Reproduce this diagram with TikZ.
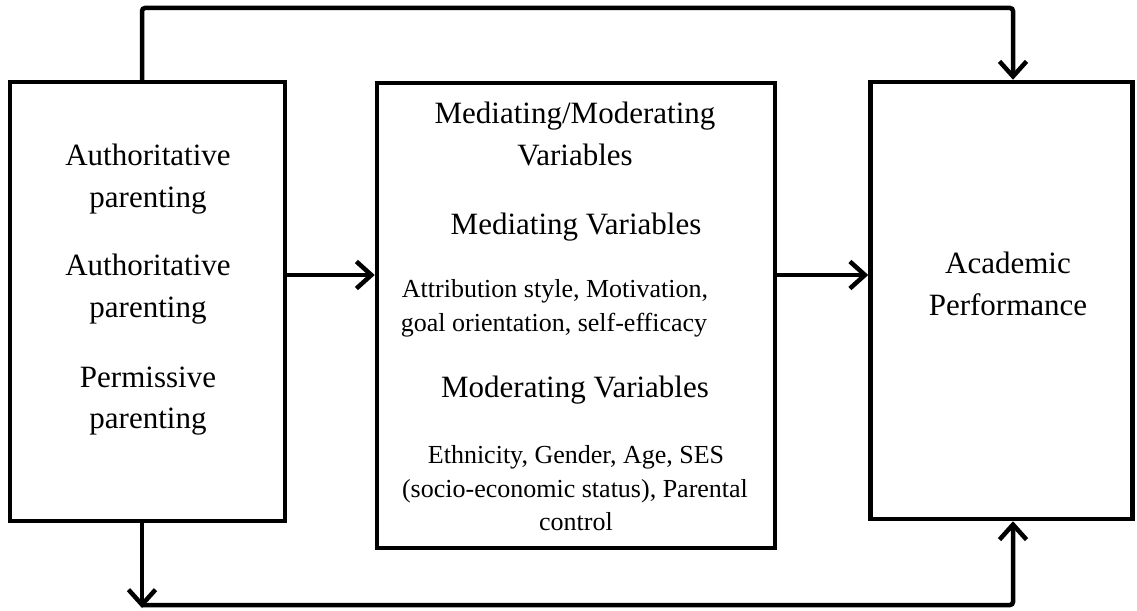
\documentclass[tikz,border=0pt]{standalone}
\usepackage{fontspec}
\setmainfont{Liberation Serif}
\usetikzlibrary{arrows.meta}
\begin{document}
\begin{tikzpicture}[x=1pt,y=-1pt,
  conn/.style={line width=4.5pt,-{Straight Barb[length=15pt,width=27pt,line width=4.5pt]}},
  big/.style={anchor=base,inner sep=0pt,font=\fontsize{31}{40}\selectfont},
  small/.style={anchor=base,inner sep=0pt,font=\fontsize{26}{33}\selectfont}]
\useasboundingbox (0,0) rectangle (1137,610);
% boxes
\node[draw,line width=4.5pt,minimum width=275pt,minimum height=439pt,inner sep=0pt] (L) at (147.5,301.5) {};
\node[draw,line width=4.5pt,minimum width=398pt,minimum height=465pt,inner sep=0pt] (M) at (576,315.5) {};
\node[draw,line width=4.5pt,minimum width=262pt,minimum height=437pt,inner sep=0pt] (R) at (1001.5,300.5) {};
% left texts
\node[big] (l1) at (148,165) {Authoritative};
\node[big] (l2) at (148,207) {parenting};
\node[big] (l3) at (148,275) {Authoritative};
\node[big] (l4) at (148,317) {parenting};
\node[big] (l5) at (148,387) {Permissive};
\node[big] (l6) at (148,428) {parenting};
% middle texts
\node[big] (m1) at (575,123) {Mediating/Moderating};
\node[big] (m2) at (575,165) {Variables};
\node[big] (m3) at (576,234) {Mediating Variables};
\node[small] (m4) at (555,297) {Attribution style, Motivation,};
\node[small] (m5) at (554,331) {goal orientation, self-efficacy};
\node[big] (m6) at (575,397) {Moderating Variables};
\node[small] (m7) at (576,463) {Ethnicity, Gender, Age, SES};
\node[small] (m8) at (575,497) {(socio-economic status), Parental};
\node[small] (m9) at (576,530) {control};
% right texts
\node[big] (r1) at (1008,273) {Academic};
\node[big] (r2) at (1008,315) {Performance};
% connectors
\draw[conn] (L.east |- 0,275) -- (M.west |- 0,275);
\draw[conn] (M.east |- 0,275) -- (R.west |- 0,275);
\coordinate (tl) at (142,8);
\coordinate (tr) at (1013,8);
\draw[conn,rounded corners=3pt] (L.north -| tl) -- (tl) -- (tr) -- (R.north -| tr);
\coordinate (bl) at (142,605);
\coordinate (br) at (1013,605);
\draw[conn] (L.south -| bl) -- ([yshift=-3pt]bl);
\draw[conn,rounded corners=3pt] (bl) -- (br) -- (R.south -| br);
\end{tikzpicture}
\end{document}
